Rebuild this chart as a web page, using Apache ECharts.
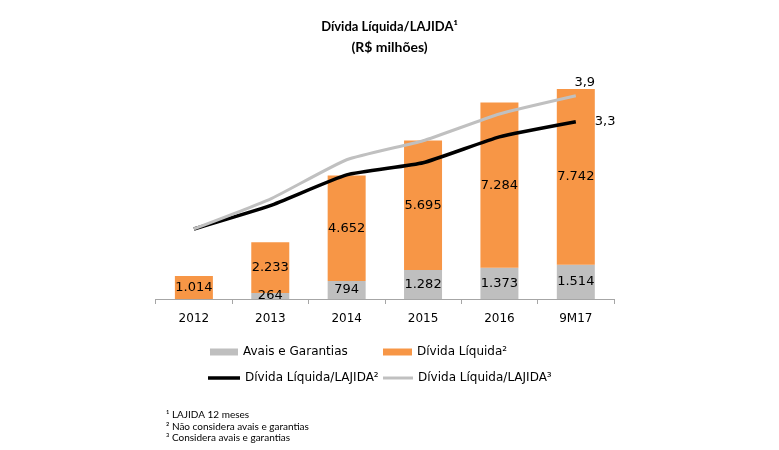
<!DOCTYPE html>
<html>
<head>
<meta charset="utf-8">
<script src="https://cdn.jsdelivr.net/npm/echarts@6/dist/echarts.min.js"></script>
<style>html,body{margin:0;padding:0;background:#fff}#c{width:779px;height:450px}</style>
</head>
<body>
<div id="c"></div>
<script>
const categories = ['2012', '2013', '2014', '2015', '2016', '9M17'];
const avaisGarantias = [0, 264, 794, 1282, 1373, 1514];
const dividaLiquida = [1014, 2233, 4652, 5695, 7284, 7742];
const alavancagemSemAvais = [0.82, 1.36, 2.07, 2.35, 2.95, 3.3];
const alavancagemComAvais = [0.82, 1.51, 2.42, 2.86, 3.48, 3.9];

const FONT = 'DejaVu Sans';
const fmt = v => v.toLocaleString('de-DE');
const fmtDec = v => v.toFixed(1).replace('.', ',');
const lastIdx = categories.length - 1;

const chart = echarts.init(document.getElementById('c'), null, {renderer: 'canvas'});
const legendText = {fontFamily: FONT, fontSize: 12, color: '#000'};
chart.setOption({
  animation: false,
  grid: {left: 155.7, right: 165, top: 72, bottom: 151},
  xAxis: {
    type: 'category', data: categories,
    axisLine: {lineStyle: {color: '#a6a6a6', width: 1}},
    axisTick: {show: true, length: 5, lineStyle: {color: '#a6a6a6'}},
    axisLabel: {color: '#000', fontFamily: FONT, fontSize: 12, margin: 14}
  },
  yAxis: [
    {type: 'value', min: 0, max: 10000, show: false, splitLine: {show: false}},
    {type: 'value', min: -0.8, max: 4.45, show: false, splitLine: {show: false}}
  ],
  legend: [
    {data: [{name: 'Avais e Garantias', icon: 'rect'}], left: 205, top: 341, itemWidth: 28, itemHeight: 7, textStyle: legendText},
    {data: [{name: 'Dívida Líquida²', icon: 'rect'}], left: 378, top: 341, itemWidth: 29, itemHeight: 7, textStyle: legendText},
    {data: [{name: 'Dívida Líquida/LAJIDA²', icon: 'rect'}], left: 203, top: 367, itemWidth: 32, itemHeight: 3.5, textStyle: legendText},
    {data: [{name: 'Dívida Líquida/LAJIDA³', icon: 'rect'}], left: 378, top: 367, itemWidth: 30, itemHeight: 3, textStyle: legendText}
  ],
  series: [
    {
      name: 'Avais e Garantias', type: 'bar', stack: 'd', barWidth: 38,
      itemStyle: {color: '#bfbfbf'},
      data: avaisGarantias,
      label: {show: true, position: 'inside', fontFamily: FONT, fontSize: 13, color: '#000',
        formatter: p => p.value > 0 ? fmt(p.value) : ''}
    },
    {
      name: 'Dívida Líquida²', type: 'bar', stack: 'd', barWidth: 38,
      itemStyle: {color: '#f79646'},
      data: dividaLiquida,
      label: {show: true, position: 'inside', fontFamily: FONT, fontSize: 13, color: '#000',
        formatter: p => fmt(p.value)}
    },
    {
      name: 'Dívida Líquida/LAJIDA²', type: 'line', yAxisIndex: 1, smooth: 0.15,
      symbol: 'circle', symbolSize: 0.01, showSymbol: true,
      lineStyle: {color: '#000', width: 3.5}, itemStyle: {color: '#000'},
      label: {show: false},
      data: alavancagemSemAvais.map((v, i) => i === lastIdx ? {value: v, label: {show: true, position: 'right', offset: [14, 0], fontFamily: FONT, fontSize: 13, color: '#000', formatter: p => fmtDec(p.value)}} : v)
    },
    {
      name: 'Dívida Líquida/LAJIDA³', type: 'line', yAxisIndex: 1, smooth: 0.15,
      symbol: 'circle', symbolSize: 0.01, showSymbol: true,
      lineStyle: {color: '#c0c0c0', width: 3}, itemStyle: {color: '#c0c0c0'},
      label: {show: false},
      data: alavancagemComAvais.map((v, i) => i === lastIdx ? {value: v, label: {show: true, position: 'top', offset: [9, -2], fontFamily: FONT, fontSize: 13, color: '#000', formatter: p => fmtDec(p.value)}} : v)
    }
  ],
  graphic: [
    {type: 'text', left: 'center', top: 20, style: {text: 'Dívida Líquida/LAJIDA¹', font: 'bold 13px Lato', fill: '#000'}},
    {type: 'text', left: 'center', top: 40, style: {text: '(R$ milhões)', font: 'bold 14px Lato', fill: '#000'}},
    {type: 'text', left: 166, top: 410, style: {text: '¹ LAJIDA 12 meses', font: '10px Lato', fill: '#000'}},
    {type: 'text', left: 166, top: 421.5, style: {text: '² Não considera avais e garantias', font: '10px Lato', fill: '#000'}},
    {type: 'text', left: 166, top: 433, style: {text: '³ Considera avais e garantias', font: '10px Lato', fill: '#000'}}
  ]
});
</script>
</body>
</html>
